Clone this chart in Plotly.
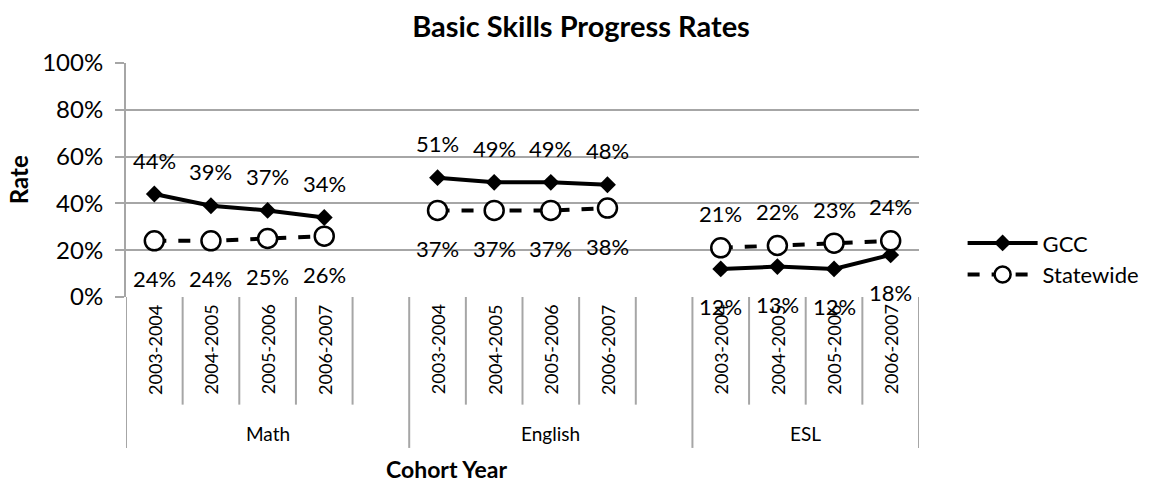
import plotly.graph_objects as go

# Chart data
groups = ["Math", "English", "ESL"]
years = ["2003-2004", "2004-2005", "2005-2006", "2006-2007"]

gcc_math = [0.44, 0.39, 0.37, 0.34]
gcc_english = [0.51, 0.49, 0.49, 0.48]
gcc_esl = [0.12, 0.13, 0.12, 0.18]

state_math = [0.24, 0.24, 0.25, 0.26]
state_english = [0.37, 0.37, 0.37, 0.38]
state_esl = [0.21, 0.22, 0.23, 0.24]

y_ticks = [0, 0.2, 0.4, 0.6, 0.8, 1.0]

gcc = {"Math": gcc_math, "English": gcc_english, "ESL": gcc_esl}
state = {"Math": state_math, "English": state_english, "ESL": state_esl}
# GCC labels sit above the line except for ESL, where the lines swap
gcc_above = {"Math": True, "English": True, "ESL": False}

FONT = "Lato"
GRID = "#A6A6A6"

# Build category slots (an empty slot follows Math and English, like the sheet)
cats, cat_year, cat_group, gcc_y, state_y = [], [], [], [], []
for g in groups:
    for yr, a, b in zip(years, gcc[g], state[g]):
        cats.append(f"{g} {yr}")
        cat_year.append(yr)
        cat_group.append(g)
        gcc_y.append(a)
        state_y.append(b)
    if g != groups[-1]:
        cats.append(f"{g} blank")
        cat_year.append("")
        cat_group.append(g)
        gcc_y.append(None)
        state_y.append(None)

fig = go.Figure()
fig.add_trace(go.Scatter(
    x=cats, y=gcc_y, name="GCC", mode="lines+markers",
    line=dict(color="black", width=4),
    marker=dict(symbol="diamond", size=13, color="black"),
    connectgaps=False,
))
fig.add_trace(go.Scatter(
    x=cats, y=state_y, name="Statewide", mode="lines+markers",
    line=dict(color="black", width=4, dash="dash"),
    marker=dict(symbol="circle", size=19, color="white",
                line=dict(color="black", width=2.5)),
    connectgaps=False,
))

annotations = []
# data labels
for c, g, a, b in zip(cats, cat_group, gcc_y, state_y):
    if a is None:
        continue
    up = gcc_above[g]
    annotations.append(dict(x=c, y=a, xref="x", yref="y", text=f"{a:.0%}",
                            showarrow=False, yshift=34 if up else -38,
                            font=dict(family=FONT, size=22, color="black")))
    annotations.append(dict(x=c, y=b, xref="x", yref="y", text=f"{b:.0%}",
                            showarrow=False, yshift=-38 if up else 34,
                            font=dict(family=FONT, size=22, color="black")))

# year labels (rotated) and group labels
for i, yr in enumerate(cat_year):
    if yr:
        annotations.append(dict(x=i, y=-0.225, xref="x", yref="paper", text=yr,
                                textangle=-90, showarrow=False,
                                xanchor="center", yanchor="middle",
                                font=dict(family=FONT, size=18, color="black")))

shapes = []
start = 0
for g in groups:
    n = cat_group.count(g)
    end = start + n
    annotations.append(dict(x=(start + end - 1) / 2, y=-0.585, xref="x", yref="paper",
                            text=g, showarrow=False, xanchor="center", yanchor="middle",
                            font=dict(family=FONT, size=19, color="black")))
    shapes.append(dict(type="line", xref="x", yref="paper", x0=start - 0.5, x1=start - 0.5,
                       y0=0, y1=-0.645, line=dict(color=GRID, width=2)))
    for k in range(start + 1, end):
        shapes.append(dict(type="line", xref="x", yref="paper", x0=k - 0.5, x1=k - 0.5,
                           y0=0, y1=-0.46, line=dict(color=GRID, width=2)))
    start = end
shapes.append(dict(type="line", xref="x", yref="paper", x0=start - 0.5, x1=start - 0.5,
                   y0=0, y1=-0.645, line=dict(color=GRID, width=2)))

# axis titles
annotations.append(dict(x=0.404, y=-0.735, xref="paper", yref="paper", text="<b>Cohort Year</b>",
                        showarrow=False, xanchor="center", yanchor="middle",
                        font=dict(family=FONT, size=23, color="black")))
annotations.append(dict(x=-0.136, y=0.5, xref="paper", yref="paper", text="<b>Rate</b>",
                        textangle=-90, showarrow=False, xanchor="center", yanchor="middle",
                        font=dict(family=FONT, size=24, color="black")))

fig.update_layout(
    width=1162, height=484,
    margin=dict(l=126, r=243, t=63, b=187),
    paper_bgcolor="white", plot_bgcolor="white",
    title=dict(text="<b>Basic Skills Progress Rates</b>", x=0.5, xanchor="center",
               y=1 - 27 / 484, yanchor="middle", yref="container",
               font=dict(family=FONT, size=29, color="black")),
    xaxis=dict(type="category", categoryorder="array", categoryarray=cats,
               range=[-0.5, len(cats) - 0.5], showticklabels=False, ticks="",
               showgrid=False, zeroline=False, showline=False),
    yaxis=dict(range=[0, 1], tickvals=y_ticks, tickformat=".0%",
               showgrid=True, gridcolor=GRID, gridwidth=2,
               showline=True, linecolor=GRID, linewidth=2,
               ticks="outside", ticklen=9, tickcolor=GRID, tickwidth=2,
               ticklabelstandoff=7, zeroline=False,
               tickfont=dict(family=FONT, size=24, color="black")),
    legend=dict(x=1.055, xanchor="left", y=0.32, yanchor="top",
                font=dict(family=FONT, size=22, color="black"),
                itemwidth=70, tracegroupgap=4, bgcolor="rgba(0,0,0,0)"),
    annotations=annotations,
    shapes=shapes,
    showlegend=True,
)

# drop the browser's default page margin so the figure sits at the window origin
fig.write_html("out.html", config={"displayModeBar": False},
               post_script="document.body.style.margin='0';document.body.style.overflow='hidden';")
